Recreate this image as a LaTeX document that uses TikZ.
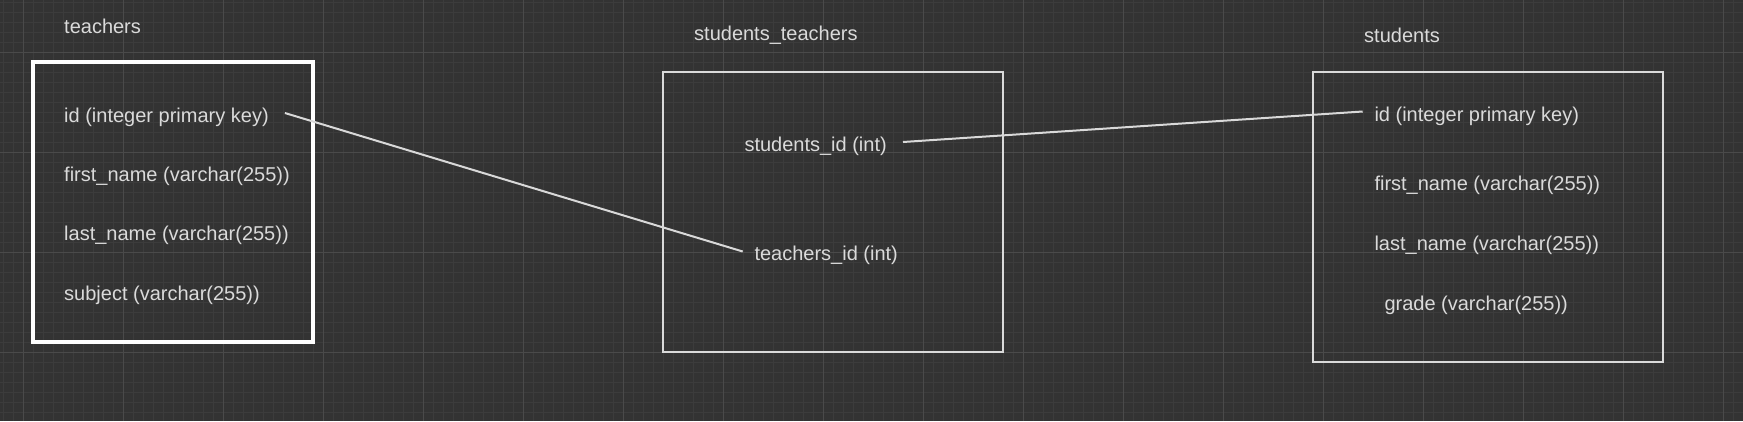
\documentclass[tikz,border=0pt]{standalone}
\usepackage{fontspec}
\setmainfont{Liberation Sans}
\definecolor{bg}{HTML}{333333}
\definecolor{gridminor}{HTML}{3C3C3C}
\definecolor{gridmajor}{HTML}{4A4A4A}
\definecolor{txt}{HTML}{DADADA}
\definecolor{boxline}{HTML}{D9D9D9}
\tikzset{
  lbl/.style={anchor=west, inner sep=0pt, text=txt, font=\fontsize{20}{24}\selectfont},
  tablebox/.style={draw=boxline, line width=2pt, rectangle, inner sep=0pt},
  conn/.style={draw=boxline, line width=2pt},
}
\begin{document}
\begin{tikzpicture}[x=1pt,y=-1pt]
\fill[bg] (0,0) rectangle (1743,421);
\useasboundingbox (0,0) rectangle (1743,421);
\foreach \x in {3,13,...,1743} \draw[gridminor, line width=1pt] (\x,0) -- (\x,421);
\foreach \y in {2,12,...,421} \draw[gridminor, line width=1pt] (0,\y) -- (1743,\y);
\foreach \x in {23,123,...,1743} \draw[gridmajor, line width=1pt] (\x,0) -- (\x,421);
\foreach \y in {52,152,...,421} \draw[gridmajor, line width=1pt] (0,\y) -- (1743,\y);

% boxes
\node[tablebox, draw=white, line width=3.5pt, minimum width=280pt, minimum height=280pt] (tbox) at (173,202) {};
\node[tablebox, minimum width=340.6pt, minimum height=279.7pt] (stbox) at (833,211.85) {};
\node[tablebox, minimum width=350.6pt, minimum height=289.7pt] (sbox) at (1488,216.85) {};

% titles
\node[lbl] (ttitle) at (64,26) {teachers};
\node[lbl] (sttitle) at (694,35) {students\_teachers};
\node[lbl] (stitle) at (1364,35) {students};

% teachers fields
\node[lbl] (tid) at (64,117) {id (integer primary key)};
\node[lbl] (tfirst) at (64,176) {first\_name (varchar(255))};
\node[lbl] (tlast) at (64,235) {last\_name (varchar(255))};
\node[lbl] (tsubj) at (64,295) {subject (varchar(255))};

% students_teachers fields
\node[lbl] (stsid) at (744.3,146) {students\_id (int)};
\node[lbl] (sttid) at (754.3,255) {teachers\_id (int)};

% students fields
\node[lbl] (sid) at (1374.3,116) {id (integer primary key)};
\node[lbl] (sfirst) at (1374.3,185.7) {first\_name (varchar(255))};
\node[lbl] (slast) at (1374.3,245) {last\_name (varchar(255))};
\node[lbl] (sgrade) at (1384.3,305.7) {grade (varchar(255))};

% connectors
\draw[conn] ([xshift=16pt,yshift=4pt]tid.east) -- ([xshift=-11.6pt,yshift=3.5pt]sttid.west);
\draw[conn] ([xshift=16pt,yshift=4pt]stsid.east) -- ([xshift=-11.6pt,yshift=4.5pt]sid.west);
\end{tikzpicture}
\end{document}
